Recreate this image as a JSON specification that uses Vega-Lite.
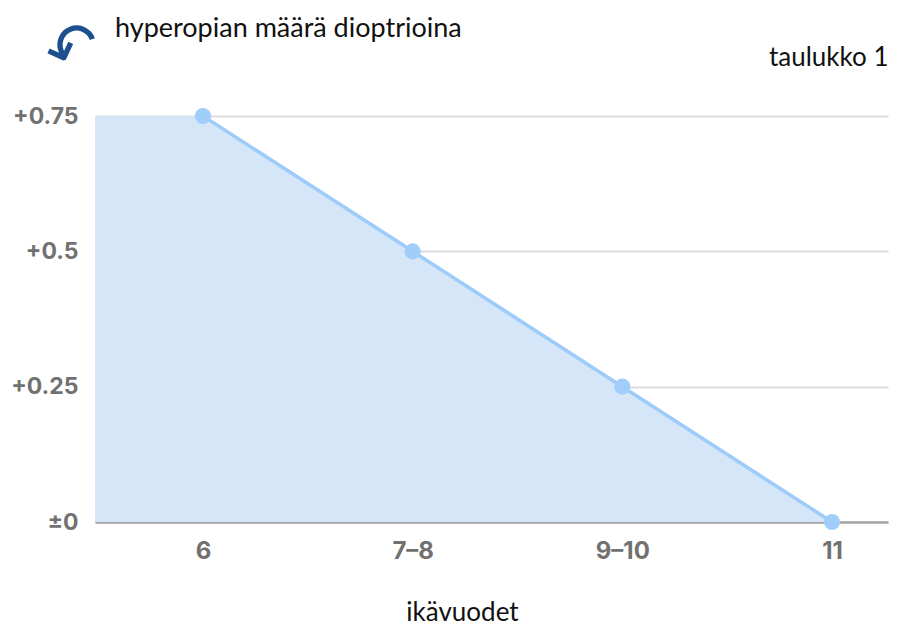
{
  "$schema": "https://vega.github.io/schema/vega-lite/v6.json",
  "autosize": "none",
  "width": 793,
  "height": 406,
  "padding": {"left": 95, "top": 116, "right": 15, "bottom": 106},
  "background": "white",
  "config": {"view": {"stroke": null}, "font": "Lato"},
  "title": {
    "text": "hyperopian määrä dioptrioina",
    "anchor": "start",
    "frame": "group",
    "dx": 20,
    "offset": 0,
    "dy": 59,
    "baseline": "bottom",
    "font": "Lato",
    "fontSize": 27,
    "fontWeight": "normal",
    "color": "#111111"
  },
  "data": {
    "values": [
      {"ika": "6", "i": 0, "d": 0.75},
      {"ika": "7–8", "i": 1, "d": 0.5},
      {"ika": "9–10", "i": 2, "d": 0.25},
      {"ika": "11", "i": 3, "d": 0}
    ]
  },
  "layer": [
    {
      "mark": {"type": "area", "color": "#d4e6f7", "opacity": 1},
      "encoding": {
        "x": {
          "field": "i",
          "type": "quantitative",
          "scale": {"domain": [-0.515, 3.267], "nice": false, "zero": false},
          "axis": {
            "values": [0, 1, 2, 3],
            "labelExpr": "['6','7–8','9–10','11'][datum.value]",
            "title": "ikävuodet",
            "titleFont": "Lato",
            "titleFontSize": 26,
            "titleFontWeight": "normal",
            "titleColor": "#111111",
            "titleX": 367,
            "titleY": 90,
            "titleBaseline": "middle",
            "titleAlign": "center",
            "grid": false,
            "ticks": false,
            "domainColor": "#a6a6a6",
            "domainWidth": 2.5,
            "labelFont": "Inter",
            "labelFontSize": 24,
            "labelFontWeight": "bold",
            "labelColor": "#717171",
            "labelPadding": 17,
            "labelFlush": false
          }
        },
        "y": {
          "field": "d",
          "type": "quantitative",
          "scale": {"domain": [0, 0.75], "nice": false},
          "axis": {
            "values": [0, 0.25, 0.5, 0.75],
            "labelExpr": "datum.value == 0 ? '±0' : '+' + datum.value",
            "title": "↶",
            "titleAngle": -20,
            "titleX": -22,
            "titleY": -66,
            "titleAlign": "center",
            "titleBaseline": "middle",
            "titleFont": "DejaVu Sans",
            "titleFontSize": 64,
            "titleFontWeight": "normal",
            "titleColor": "#1b4f8f",
            "grid": true,
            "gridColor": "#dcdcdc",
            "gridWidth": 2,
            "ticks": false,
            "domain": false,
            "labelFont": "Inter",
            "labelFontSize": 23,
            "labelFontWeight": "bold",
            "labelColor": "#717171",
            "labelPadding": 17,
            "labelBaseline": "middle",
            "labelFlush": false
          }
        },
        "y2": {"datum": 0}
      }
    },
    {
      "transform": [{"filter": "datum.i == 0"}],
      "mark": {"type": "rect", "color": "#d4e6f7"},
      "encoding": {
        "x": {"field": "i", "type": "quantitative"},
        "x2": {"datum": -0.515},
        "y": {"field": "d", "type": "quantitative", "axis": null},
        "y2": {"datum": 0}
      }
    },
    {
      "mark": {"type": "line", "color": "#9dcbfa", "strokeWidth": 3.5},
      "encoding": {
        "x": {"field": "i", "type": "quantitative"},
        "y": {"field": "d", "type": "quantitative", "axis": null}
      }
    },
    {
      "mark": {"type": "point", "filled": true, "color": "#a1cdfb", "opacity": 1, "size": 260},
      "encoding": {
        "x": {"field": "i", "type": "quantitative"},
        "y": {
          "field": "d",
          "type": "quantitative",
          "axis": {
            "orient": "right",
            "values": [],
            "labels": false,
            "ticks": false,
            "domain": false,
            "grid": false,
            "title": "taulukko 1",
            "titleAngle": 0,
            "titleX": 0,
            "titleY": -59,
            "titleAlign": "right",
            "titleBaseline": "middle",
            "titleFont": "Lato",
            "titleFontSize": 26,
            "titleFontWeight": "normal",
            "titleColor": "#111111"
          }
        }
      }
    }
  ],
  "resolve": {"axis": {"y": "independent"}}
}
